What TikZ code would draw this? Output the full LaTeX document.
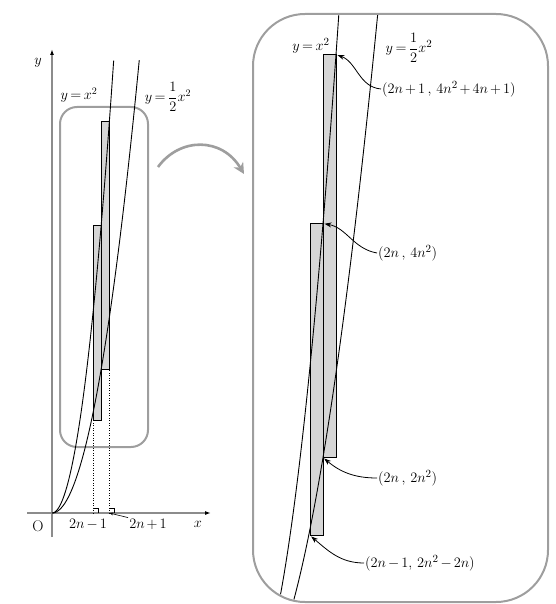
\documentclass[tikz,border=0pt]{standalone}
\usetikzlibrary{arrows.meta}
\begin{document}
\medmuskip=2.5mu
\thickmuskip=3mu
\begin{tikzpicture}[x=1pt,y=-1pt,
  frame/.style={draw=black!38, line width=2pt},
  bar/.style={draw=black, fill=black!16, line width=0.8pt},
  curve/.style={draw=black, line width=0.9pt},
  axis/.style={draw=black!45, line width=1.4pt, -{Latex[length=6pt,width=4pt,color=black]}},
  lead/.style={draw=black, line width=0.8pt, -{Stealth[length=7pt,width=5pt]}, shorten >=1.5pt},
  guide/.style={draw=black, line width=0.5pt, dotted},
  lbl/.style={font=\fontsize{15.5}{18}\selectfont, inner sep=1pt},
  slbl/.style={font=\fontsize{14.5}{17}\selectfont, inner sep=1pt},
  garrow/.style={draw=black!38, line width=2.6pt, -{Stealth[length=11pt,width=11pt]}}]
\useasboundingbox (0,0) rectangle (555,604);

% ---------- left panel ----------
\coordinate (xs) at (27,513);
\coordinate (xe) at (211,513);
\coordinate (ys) at (52,537);
\coordinate (ye) at (52,49);
\draw[axis] (xs) -- (xe);
\draw[axis] (ys) -- (ye);

\draw[frame, rounded corners=17pt] (60,107) rectangle (148,447);

\begin{scope}[shift={(52,513)}, x=8.2pt, y=8pt]
  \draw[bar] (5,11.6) rectangle (6,36);
  \draw[bar] (6,18) rectangle (7,49);
  \draw[guide] (5,0) -- (5,11.6);
  \draw[guide] (7,0) -- (7,18);
  \draw[line width=0.4pt] (5,0.55) -- (5.6,0.55) -- (5.6,0);
  \draw[line width=0.4pt] (7,0.55) -- (7.6,0.55) -- (7.6,0);
  \draw[curve] plot[domain=0:7.52, samples=80, smooth] (\x,{\x*\x});
  \draw[curve] plot[domain=0:10.64, samples=80, smooth] (\x,{0.5*\x*\x});
  \coordinate (p7) at (7,0);
\end{scope}

\node[lbl] (ly) at (38,63) {$y$};
\node[lbl] (lO) at (38,526) {O};
\node[lbl] (lx) at (198,524) {$x$};
\node[slbl] (l1) at (88,524) {$2n-1$};
\node[slbl] (l2) at (148,524) {$2n+1$};
\draw[draw=black, line width=0.6pt, -{Stealth[length=4pt,width=3pt]}] (l2.north west) -- (p7);
\node[slbl] (c1) at (79,95) {$y=x^2$};
\node[slbl] (c2) at (168,97) {$y={\displaystyle\frac{1}{2}}x^2$};

% ---------- zoom arrow ----------
\coordinate (ca) at (158,167);
\coordinate (cb) at (244,174);
\draw[garrow] (ca) .. controls (180,137) and (222,137) .. (cb);

% ---------- right panel ----------
\begin{scope}
  \clip[rounded corners=52pt] (254,15) rectangle (547,601);
  \begin{scope}[shift={(245,691.5)}, x=13pt, y=13pt]
    \draw[bar] (5,12) rectangle (6,36);
    \draw[bar] (6,18) rectangle (7,49);
    \draw[curve] plot[domain=2.3:7.35, samples=80, smooth] (\x,{\x*\x});
    \draw[curve] plot[domain=3.4:10.35, samples=80, smooth] (\x,{0.5*\x*\x});
    \coordinate (q1) at (7,49);
    \coordinate (q2) at (6,36);
    \coordinate (q3) at (6,18);
    \coordinate (q4) at (5,12);
  \end{scope}
\end{scope}
\draw[frame, rounded corners=52pt] (253,14) rectangle (548,602);

\node[lbl] (r1) at (311,46) {$y=x^2$};
\node[lbl] (r2) at (409,48) {$y={\displaystyle\frac{1}{2}}x^2$};

\node[lbl, anchor=west] (t1) at (381,89) {$(2n+1\;,\;4n^2+4n+1)$};
\node[lbl, anchor=west] (t2) at (377,253) {$(2n\;,\;4n^2)$};
\node[lbl, anchor=west] (t3) at (377,478) {$(2n\;,\;2n^2)$};
\node[lbl, anchor=west] (t4) at (364,563) {$(2n-1,\,2n^2-2n)$};

\draw[lead] (t1.west) to[out=175,in=-20] (q1);
\draw[lead] (t2.west) to[out=170,in=-10] (q2);
\draw[lead] (t3.west) to[out=180,in=-40] (q3);
\draw[lead] (t4.west) to[out=180,in=-40] (q4);
\end{tikzpicture}
\end{document}
